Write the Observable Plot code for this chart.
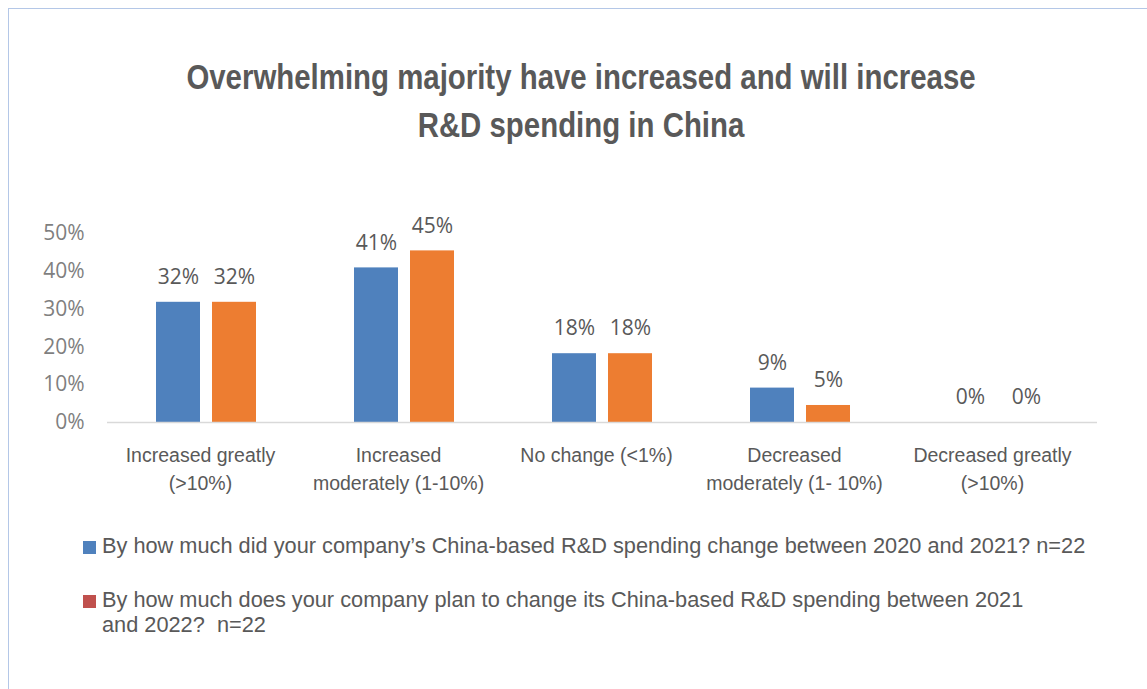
<!DOCTYPE html>
<html>
<head>
<meta charset="utf-8">
<script src="https://cdn.jsdelivr.net/npm/d3@7"></script>
<script src="https://cdn.jsdelivr.net/npm/@observablehq/plot@0.6"></script>
<style>
  html, body { margin: 0; padding: 0; background: #fff; }
  #wrap { position: relative; width: 1147px; height: 689px; overflow: hidden; background: #fff; }
  #frame { position: absolute; left: 8px; top: 8px; width: 1147px; height: 689px;
           border-top: 1.5px solid #b4c7e7; border-left: 1.5px solid #b4c7e7; box-sizing: border-box; }
  #title { position: absolute; left: 0; top: 53px; width: 1162px; text-align: center;
           font-family: "Liberation Sans", Arial, sans-serif; font-weight: bold; font-size: 35px;
           line-height: 48px; color: #595959; transform: scaleX(0.84); transform-origin: 581px 0; white-space: pre; }
  #chart { position: absolute; left: 0; top: 200px; }
  .leg { position: absolute; left: 0; }
  .leg .sw { position: absolute; left: 83px; width: 13px; height: 13px; }
  .leg .tx { position: absolute; left: 102px; font-family: "Liberation Sans", Arial, sans-serif;
             font-size: 21.75px; line-height: 25px; color: #595959; white-space: pre-wrap; }
</style>
</head>
<body>
<div id="wrap">
  <div id="frame"></div>
  <div id="title"></div>
  <div id="chart"></div>
  <div id="legend"></div>
</div>
<script>
// ---- data ----
const titleLines = ["Overwhelming majority have increased and will increase", "R&D spending in China"];
const categories = ["Increased greatly (>10%)", "Increased moderately (1-10%)", "No change (<1%)", "Decreased moderately (1- 10%)", "Decreased greatly (>10%)"];
const categoryLabels = ["Increased greatly\n(>10%)", "Increased\nmoderately (1-10%)", "No change (<1%)", "Decreased\nmoderately (1- 10%)", "Decreased greatly\n(>10%)"];
const seriesNames = [
  "By how much did your company’s China-based R&D spending change between 2020 and 2021? n=22",
  "By how much does your company plan to change its China-based R&D spending between 2021 and 2022?  n=22"
];
const values2021 = [31.8, 40.9, 18.2, 9.1, 0];
const values2022 = [31.8, 45.4, 18.2, 4.5, 0];
const yTicks = [0, 10, 20, 30, 40, 50];
const barColors = ["#4F81BD", "#ED7D31"];
const legendColors = ["#4F81BD", "#C0504D"];

// ---- table ----
const data = [];
categories.forEach((c, i) => {
  data.push({category: c, series: seriesNames[0], value: values2021[i]});
  data.push({category: c, series: seriesNames[1], value: values2022[i]});
});
const labelOf = new Map(categories.map((c, i) => [c, categoryLabels[i]]));

document.getElementById("title").textContent = titleLines.join("\n");

const plot = Plot.plot({
  width: 1147,
  height: 300,
  marginTop: 33,
  marginBottom: 78,
  marginLeft: 107,
  marginRight: 50,
  style: {fontFamily: "'Open Sans', sans-serif", fontSize: "21px", color: "#7f7f7f", background: "transparent"},
  fx: {domain: categories, padding: 0, label: null, axis: null},
  x: {domain: seriesNames, paddingInner: 0.21, paddingOuter: 0.842, axis: null},
  y: {domain: [0, 50], ticks: yTicks, tickFormat: d => d + "%", tickSize: 0, tickPadding: 23, label: null, axis: "left"},
  color: {domain: seriesNames, range: barColors},
  marks: [
    Plot.barY(data, {fx: "category", x: "series", y: "value", fill: "series"}),
    Plot.ruleY([0], {stroke: "#d9d9d9", strokeWidth: 1.3}),
    Plot.text(data, {fx: "category", x: "series", y: "value", text: d => Math.round(d.value) + "%",
      dy: -25, fill: "#595959", fontSize: 21, fontFamily: "'Open Sans', sans-serif"}),
    Plot.axisFx({anchor: "bottom", tickSize: 0, tickPadding: 19, dx: -6, tickFormat: d => labelOf.get(d),
      fontSize: 19.5, fontFamily: "'Liberation Sans', Arial, sans-serif", color: "#595959",
      lineHeight: 1.45, label: null})
  ]
});
document.getElementById("chart").appendChild(plot);

// ---- legend ----
const legendTops = [533, 587];
const legendWidths = [1040, 935];
const leg = document.getElementById("legend");
seriesNames.forEach((name, i) => {
  const item = document.createElement("div");
  item.className = "leg";
  item.style.top = legendTops[i] + "px";
  const sw = document.createElement("div");
  sw.className = "sw";
  sw.style.top = "8px";
  sw.style.background = legendColors[i];
  const tx = document.createElement("div");
  tx.className = "tx";
  tx.style.width = legendWidths[i] + "px";
  tx.textContent = name;
  item.appendChild(sw);
  item.appendChild(tx);
  leg.appendChild(item);
});
</script>
</body>
</html>
